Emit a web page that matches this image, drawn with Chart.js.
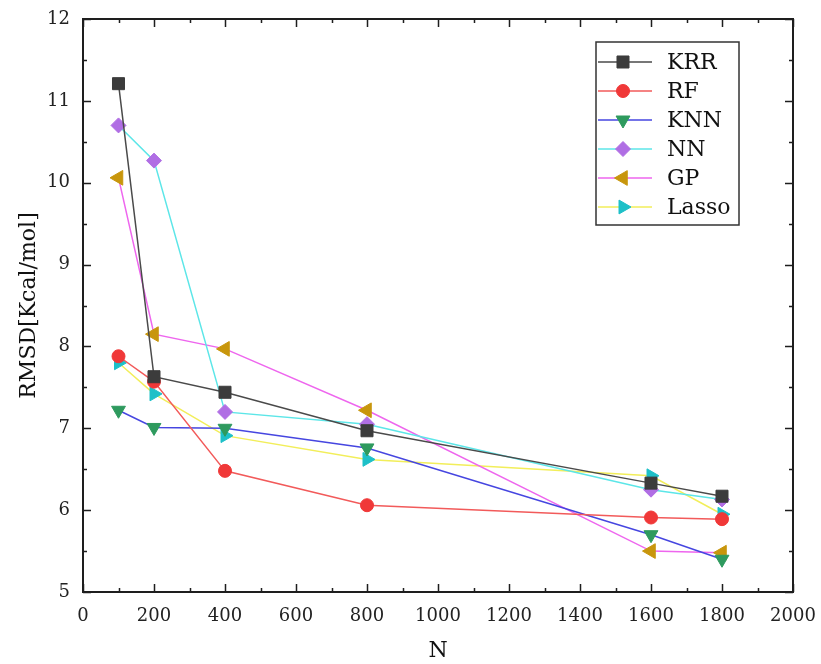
<!DOCTYPE html>
<html>
<head>
<meta charset="utf-8">
<script src="https://cdn.jsdelivr.net/npm/chart.js@4.4.1/dist/chart.umd.min.js"></script>
<style>
  body { margin: 0; background: #fff; }
  #wrap { width: 821px; height: 664px; }
</style>
</head>
<body>
<div id="wrap"><canvas id="myChart"></canvas></div>
<script>
const nValues = [100, 200, 400, 800, 1600, 1800];
const seriesNames = ['KRR', 'RF', 'KNN', 'NN', 'GP', 'Lasso'];

const krr = [11.21, 7.63, 7.44, 6.97, 6.33, 6.17];
const rf = [7.88, 7.57, 6.48, 6.06, 5.91, 5.89];
const knn = [7.22, 7.01, 7.00, 6.76, 5.70, 5.40];
const nn = [10.70, 10.27, 7.20, 7.05, 6.25, 6.13];
const gp = [10.06, 8.15, 7.97, 7.22, 5.50, 5.48];
const lasso = [7.80, 7.42, 6.91, 6.62, 6.42, 5.95];

const xTicks = [0, 200, 400, 600, 800, 1000, 1200, 1400, 1600, 1800, 2000];
const yTicks = [5, 6, 7, 8, 9, 10, 11, 12];

const FONT = "'DejaVu Serif', 'Liberation Serif', serif";

// marker / line look per series
const styles = [
    { line: '#4a4a4a', fill: '#3c3c3c', shape: 'rect', rot: 0, r: 8.5 },
    { line: '#f25a5a', fill: '#f03838', shape: 'circle', rot: 0, r: 6.5 },
    { line: '#4646e0', fill: '#2e9a5e', shape: 'triangle', rot: 180, r: 8 },
    { line: '#5ce6e8', fill: '#b06ee4', shape: 'rectRot', rot: 0, r: 7.5 },
    { line: '#ee66ee', fill: '#c8960c', shape: 'triangle', rot: -90, r: 8.5 },
    { line: '#f2ee5a', fill: '#1ec0c8', shape: 'triangle', rot: 90, r: 8 }
];

const allValues = [krr, rf, knn, nn, gp, lasso];

const datasets = seriesNames.map((name, i) => ({
    label: name,
    data: nValues.map((n, j) => ({ x: n, y: allValues[i][j] })),
    borderColor: styles[i].line,
    borderWidth: 1.5,
    backgroundColor: styles[i].fill,
    pointBackgroundColor: styles[i].fill,
    pointBorderColor: styles[i].fill,
    pointBorderWidth: 1,
    pointStyle: styles[i].shape,
    pointRotation: styles[i].rot,
    pointRadius: styles[i].r,
    pointHoverRadius: styles[i].r,
    tension: 0,
    fill: false
}));

// frame + inward ticks on all four sides
const framePlugin = {
    id: 'frame',
    afterDraw(chart) {
        const { ctx, chartArea: a, scales } = chart;
        ctx.save();
        ctx.strokeStyle = '#1e1e1e';
        ctx.lineWidth = 2;
        ctx.strokeRect(a.left, a.top, a.right - a.left, a.bottom - a.top);
        ctx.lineWidth = 1.5;
        ctx.beginPath();
        for (let v = 0; v <= 2000; v += 100) {
            const px = Math.round(scales.x.getPixelForValue(v)) + 0.5;
            const len = v % 200 === 0 ? 8 : 4;
            ctx.moveTo(px, a.bottom);
            ctx.lineTo(px, a.bottom - len);
            ctx.moveTo(px, a.top);
            ctx.lineTo(px, a.top + len);
        }
        for (let v = 5; v <= 12; v += 0.5) {
            const py = Math.round(scales.y.getPixelForValue(v)) + 0.5;
            const len = Number.isInteger(v) ? 8 : 4;
            ctx.moveTo(a.left, py);
            ctx.lineTo(a.left + len, py);
            ctx.moveTo(a.right, py);
            ctx.lineTo(a.right - len, py);
        }
        ctx.stroke();
        ctx.restore();
    }
};

// legend box inside the plot, line-marker-line style
const legendPlugin = {
    id: 'boxLegend',
    afterDraw(chart) {
        const ctx = chart.ctx;
        const bx = 596, by = 42, bw = 143, bh = 183;
        ctx.save();
        ctx.fillStyle = '#fff';
        ctx.fillRect(bx, by, bw, bh);
        ctx.strokeStyle = '#333';
        ctx.lineWidth = 1.5;
        ctx.strokeRect(bx, by, bw, bh);
        ctx.font = '22px ' + FONT;
        ctx.textBaseline = 'middle';
        seriesNames.forEach((name, i) => {
            const y = by + 20 + i * 29;
            const st = styles[i];
            ctx.strokeStyle = st.line;
            ctx.lineWidth = 1.5;
            ctx.beginPath();
            ctx.moveTo(bx + 2, y);
            ctx.lineTo(bx + 56, y);
            ctx.stroke();
            ctx.fillStyle = st.fill;
            ctx.strokeStyle = st.fill;
            ctx.lineWidth = 1;
            Chart.helpers.drawPoint(ctx, { pointStyle: st.shape, rotation: st.rot, radius: st.r, borderWidth: 1 }, bx + 27, y);
            ctx.fillStyle = '#111';
            ctx.fillText(name, bx + 71, y + 1);
        });
        ctx.restore();
    }
};

const ctx = document.getElementById('myChart').getContext('2d');

let chart = new Chart(ctx, {
    type: 'line',
    data: { datasets: datasets },
    options: {
        responsive: true,
        maintainAspectRatio: false,
        animation: false,
        layout: { padding: { top: 19, right: 28, left: 0, bottom: 0 } },
        plugins: {
            legend: { display: false },
            tooltip: { enabled: false }
        },
        scales: {
            x: {
                type: 'linear',
                min: 0,
                max: 2000,
                afterFit: s => { s.height = 72; s.paddingLeft = 0; s.paddingRight = 0; },
                afterBuildTicks: s => { s.ticks = xTicks.map(v => ({ value: v })); },
                grid: { display: false, drawTicks: false },
                border: { display: false },
                ticks: { color: '#222', padding: 14, maxRotation: 0, callback: v => String(v), font: { family: FONT, size: 18 } },
                title: { display: true, text: 'N', color: '#111', padding: { top: 0, bottom: 0 }, font: { family: FONT, size: 22 } }
            },
            y: {
                min: 5,
                max: 12,
                afterFit: s => { s.width = 83; s.paddingTop = 0; s.paddingBottom = 0; },
                afterBuildTicks: s => { s.ticks = yTicks.map(v => ({ value: v })); },
                grid: { display: false, drawTicks: false },
                border: { display: false },
                ticks: { color: '#222', padding: 13, callback: v => String(v), font: { family: FONT, size: 18 } },
                title: { display: true, text: 'RMSD[Kcal/mol]', color: '#111', padding: { top: 16, bottom: 0 }, font: { family: FONT, size: 22 } }
            }
        }
    },
    plugins: [framePlugin, legendPlugin]
});
</script>
</body>
</html>
